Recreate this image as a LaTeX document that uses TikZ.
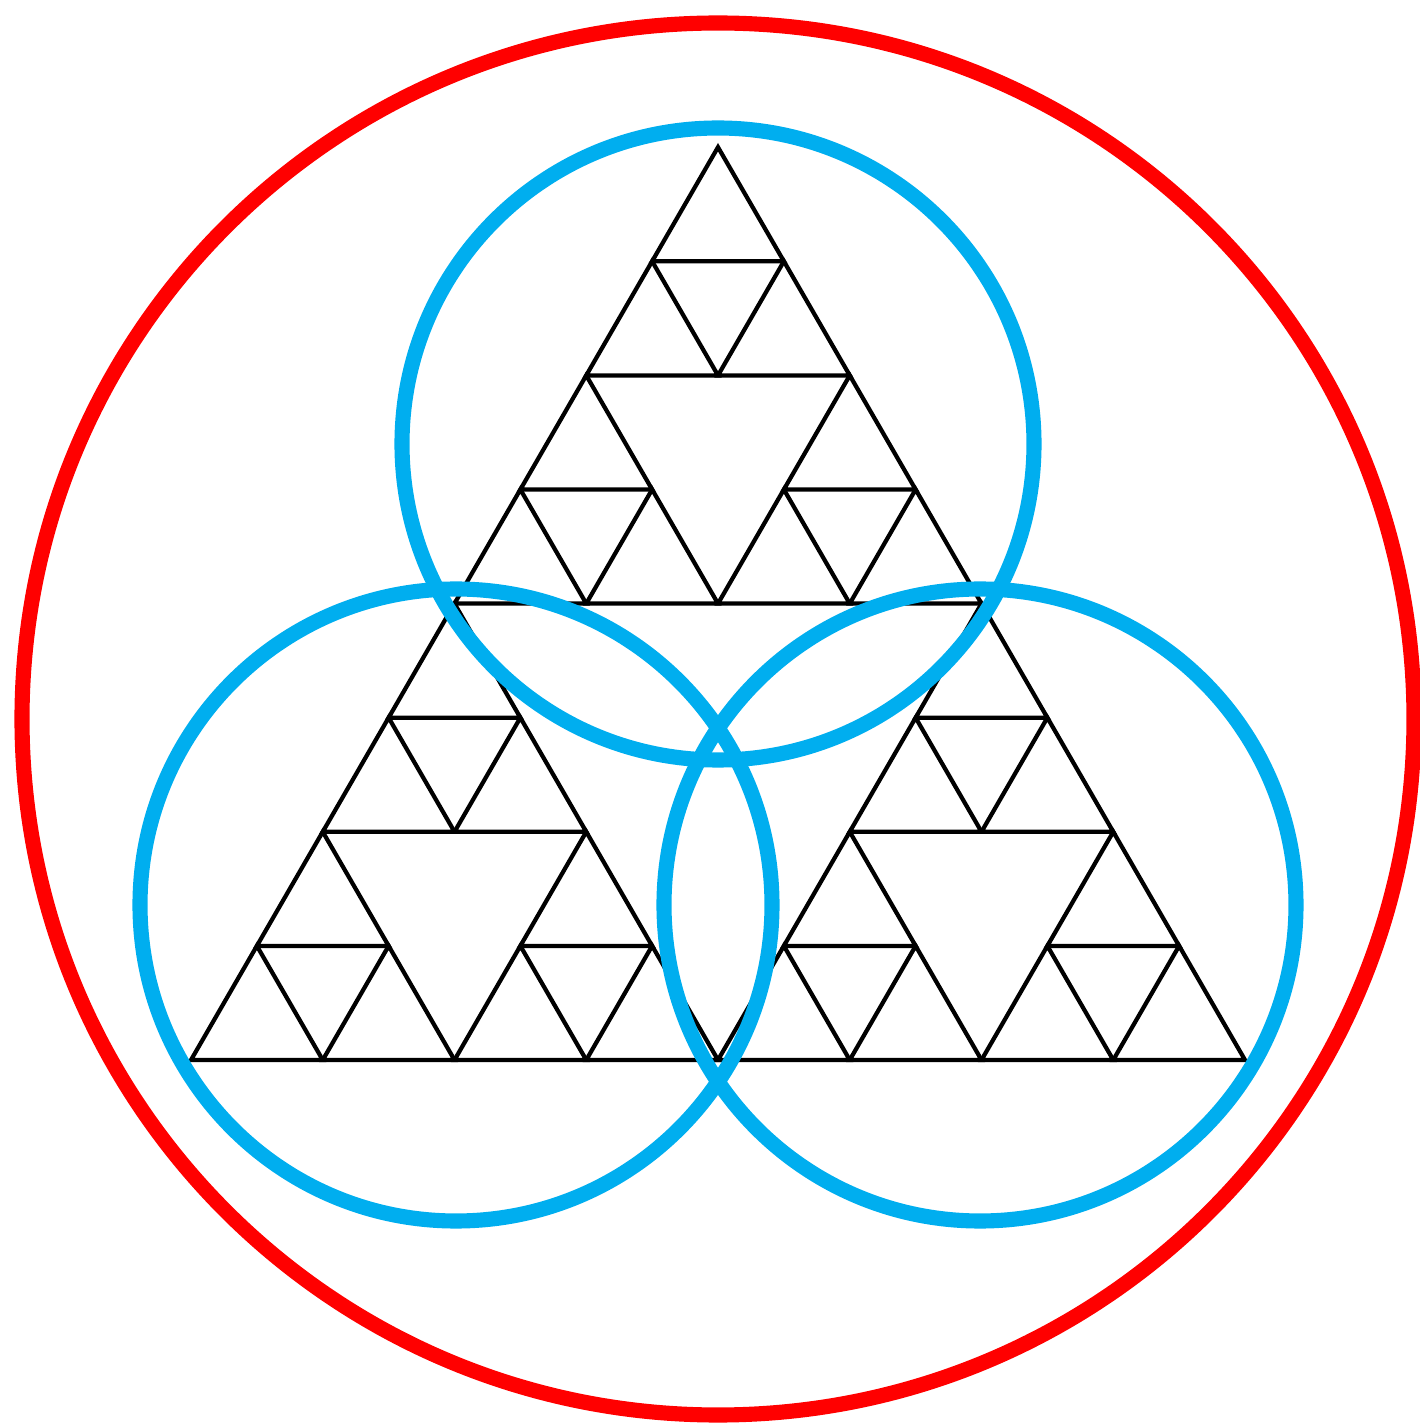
\documentclass[tikz,border=0pt]{standalone}
\usepackage{tikz}
\usetikzlibrary{calc}

\definecolor{ringblue}{RGB}{0,174,239}
\definecolor{ringred}{RGB}{255,0,0}

\begin{document}
\begin{tikzpicture}[
			tri/.style={draw=black, line width=1.2pt},
			inner ring/.style={draw=ringblue, line width=4.3pt},
			outer ring/.style={draw=ringred, line width=4.3pt}
			]
			\useasboundingbox (0,0) rectangle (14.19,14.25);
			
			% sierpinski triangle, three levels deep
			\begin{scope}[shift={(1.91,3.65)}, x={(10.54cm,0cm)}, y={(5.27cm,9.128cm)}]
				\foreach \a/\b in {0/0,1/0,0/1}
				\foreach \c/\d in {0/0,1/0,0/1}
				\foreach \e/\f in {0/0,1/0,0/1}
				\draw[tri] ({\a/2+\c/4+\e/8},{\b/2+\d/4+\f/8}) -- ++(1/8,0) -- ++(-1/8,1/8) -- cycle;
			\end{scope}
			
			\coordinate (top) at (7.18,9.81);
			\coordinate (left) at (4.56,5.20);
			\coordinate (right) at (9.80,5.20);
			\coordinate (mid) at (7.18,7.06);
			
			\draw[inner ring] (top) circle (3.16);
			\draw[inner ring] (left) circle (3.16);
			\draw[inner ring] (right) circle (3.16);
			\draw[outer ring] (mid) circle (6.96);
		\end{tikzpicture}
\end{document}
